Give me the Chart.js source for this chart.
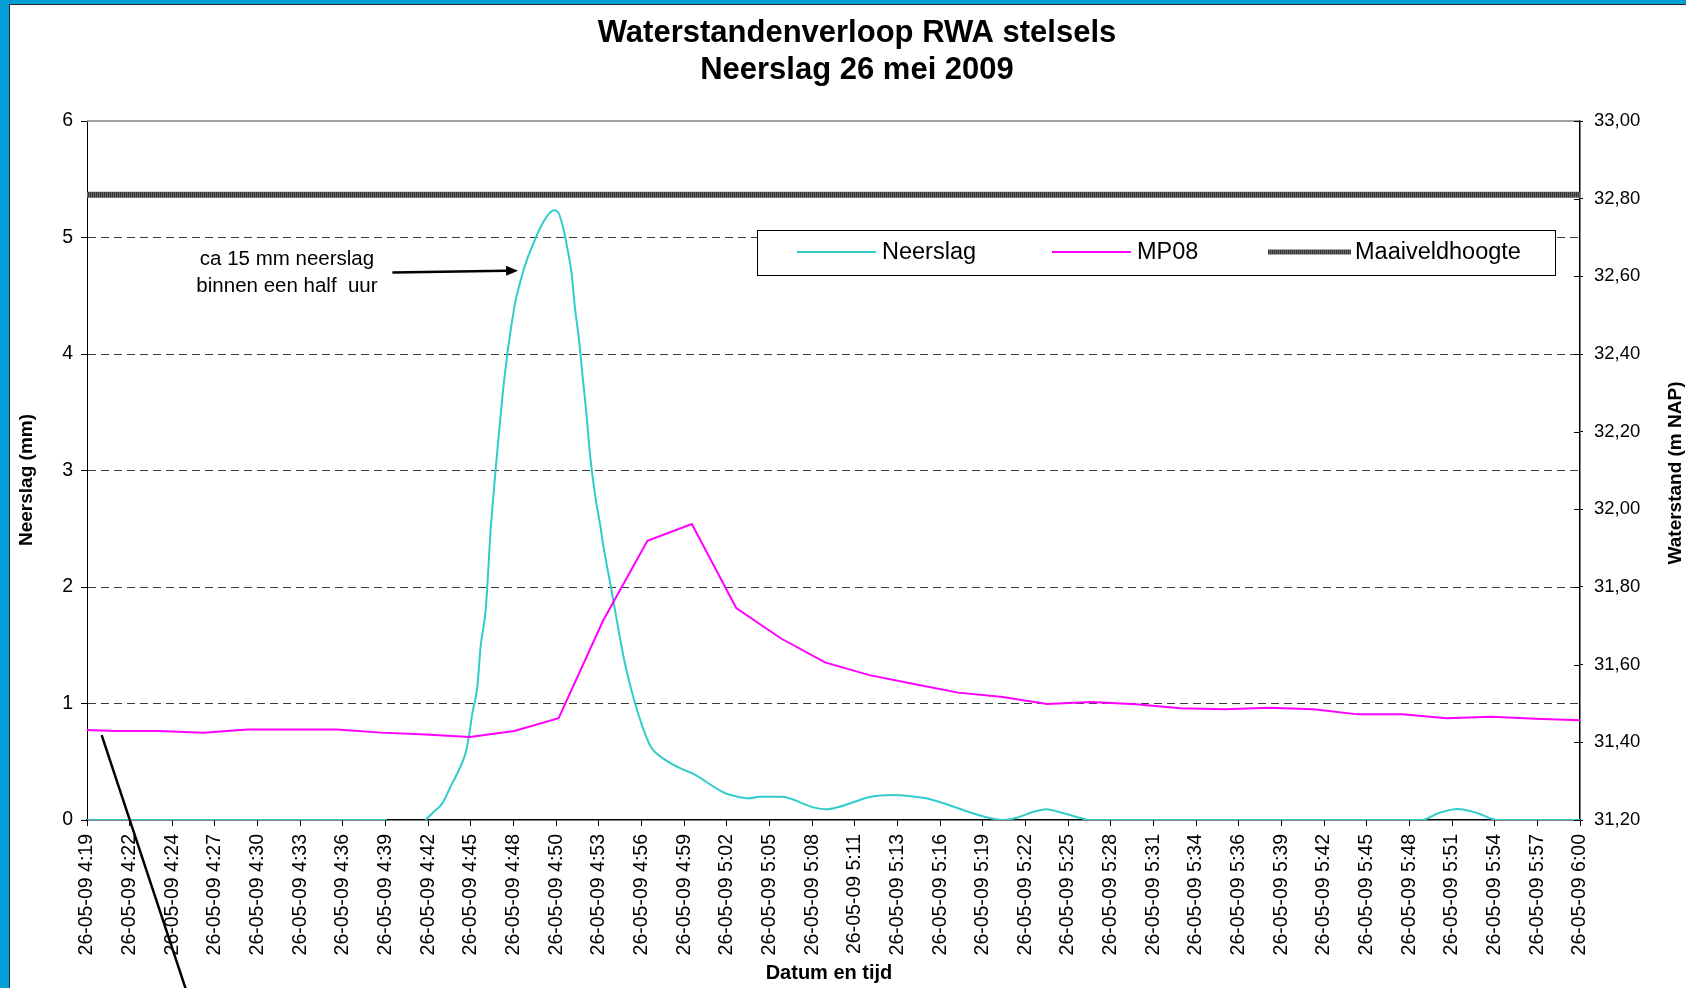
<!DOCTYPE html>
<html>
<head>
<meta charset="utf-8">
<script src="https://cdn.jsdelivr.net/npm/chart.js@4.4.1/dist/chart.umd.min.js"></script>
<style>
  html, body { margin: 0; padding: 0; background: #039dd8; overflow: hidden; width: 1686px; height: 988px; }
  #frame { position: absolute; left: 9px; top: 4px; width: 1700px; height: 1000px; background: #ffffff; border-left: 1px solid #2a2a2a; border-top: 1px solid #2a2a2a; }
  #c { position: absolute; left: 0; top: 0; }
</style>
</head>
<body>
<div id="frame"></div>
<canvas id="c" width="1686" height="988" style="width:1686px;height:988px"></canvas>
<script>
// ---------- DATA ----------
const chartTitle = ['Waterstandenverloop RWA stelsels', 'Neerslag 26 mei 2009'];

// x-axis category labels (evenly spaced)
const xTickLabels = [
  '26-05-09 4:19','26-05-09 4:22','26-05-09 4:24','26-05-09 4:27','26-05-09 4:30','26-05-09 4:33',
  '26-05-09 4:36','26-05-09 4:39','26-05-09 4:42','26-05-09 4:45','26-05-09 4:48','26-05-09 4:50',
  '26-05-09 4:53','26-05-09 4:56','26-05-09 4:59','26-05-09 5:02','26-05-09 5:05','26-05-09 5:08',
  '26-05-09 5:11','26-05-09 5:13','26-05-09 5:16','26-05-09 5:19','26-05-09 5:22','26-05-09 5:25',
  '26-05-09 5:28','26-05-09 5:31','26-05-09 5:34','26-05-09 5:36','26-05-09 5:39','26-05-09 5:42',
  '26-05-09 5:45','26-05-09 5:48','26-05-09 5:51','26-05-09 5:54','26-05-09 5:57','26-05-09 6:00'
];
// time range (minutes after 4:00) covered by first and last label
const xStartMinute = 19.14;
const xEndMinute = 120.0;

// Neerslag (mm), time in minutes after 4:00
const neerslagTime = [19.14, 39.39, 40.7, 42.0, 42.57, 43.14, 43.70, 44.26, 44.71, 44.94, 45.17, 45.51,
  45.73, 46.07, 46.22, 46.41, 46.54, 46.74, 46.97, 47.20, 47.54, 47.76, 48.10, 48.32, 48.77, 49.11,
  49.79, 50.35, 50.69, 50.96, 51.37, 51.60, 51.87, 52.10, 52.38, 52.61, 52.83, 53.17, 53.51, 53.85,
  53.96, 54.53, 55.09, 55.43, 56.10, 56.67, 57.24, 58.13, 59.38, 60.05, 62.19, 63.10, 63.88, 64.56,
  66.03, 68.28, 69.07, 69.75, 72.12, 73.58, 75.05, 75.84, 79.78, 81.03, 81.81, 83.28, 83.96, 84.75,
  86.33, 86.80, 109.30, 110.48, 111.72, 113.05, 114.44, 120.0];
const neerslagValue = [0, 0, null, 0, 0.071, 0.143, 0.286, 0.429, 0.572, 0.715, 0.915, 1.144,
  1.487, 1.80, 2.087, 2.50, 2.70, 3.003, 3.318, 3.632, 4.004, 4.204, 4.462, 4.576, 4.776, 4.891,
  5.09, 5.205, 5.234, 5.219, 5.05, 4.90, 4.70, 4.40, 4.12, 3.82, 3.55, 3.08, 2.75, 2.50,
  2.40, 2.002, 1.602, 1.373, 1.03, 0.80, 0.626, 0.523, 0.435, 0.40, 0.234, 0.20, 0.186, 0.20,
  0.20, 0.106, 0.092, 0.106, 0.20, 0.215, 0.20, 0.186, 0.028, 0, 0.015, 0.077, 0.092, 0.071,
  0.015, 0, 0, 0.06, 0.094, 0.06, 0, 0];

// MP08 waterstand (m NAP), time in minutes after 4:00
const mp08Time = [19.14, 21, 24, 27, 30, 33, 36, 39, 42, 45, 48, 51, 54, 57, 60, 63, 66, 69, 72, 75,
  78, 81, 84, 87, 90, 93, 96, 99, 102, 105, 108, 111, 114, 117, 120];
const mp08Value = [31.432, 31.429, 31.429, 31.425, 31.433, 31.433, 31.433, 31.425, 31.420, 31.414,
  31.429, 31.462, 31.713, 31.919, 31.962, 31.746, 31.668, 31.606, 31.573, 31.550, 31.528, 31.517,
  31.499, 31.504, 31.498, 31.488, 31.485, 31.489, 31.485, 31.472, 31.472, 31.462, 31.466, 31.461, 31.457];

// Maaiveldhoogte (m NAP)
const maaiveldTime = [19.14, 120];
const maaiveldValue = [32.81, 32.81];

const seriesNames = ['Neerslag', 'MP08', 'Maaiveldhoogte'];
const axisTitles = { x: 'Datum en tijd', left: 'Neerslag (mm)', right: 'Waterstand (m NAP)' };

// annotation (data coordinates: minutes after 4:00, Neerslag mm)
const noteLines = ['ca 15 mm neerslag', 'binnen een half  uur'];
const noteAnchor = { t: 32.65, v: [4.81, 4.58] };
const noteArrow = { from: [39.77, 4.70], to: [48.26, 4.715] };
const noteLine2 = { from: [20.13, 0.729], to: [25.94, -1.5] };

// ---------- CHART ----------
const FONT = "'Liberation Sans', Arial, sans-serif";
Chart.defaults.font.family = FONT;
Chart.defaults.color = '#000';

const canvas = document.getElementById('c');
const ctx0 = canvas.getContext('2d');
const pc = document.createElement('canvas');
pc.width = 2; pc.height = 1;
const pg = pc.getContext('2d');
pg.fillStyle = '#363636'; pg.fillRect(0, 0, 1, 1);
pg.fillStyle = '#666666'; pg.fillRect(1, 0, 1, 1);
const groundPattern = ctx0.createPattern(pc, 'repeat');

const COLORS = { neerslag: '#33CCCC', mp08: '#FF00FF' };

const zip = (xs, ys) => xs.map((x, i) => ({ x: x, y: ys[i] }));

const decorPlugin = {
  id: 'decor',
  afterDraw(chart) {
    const { ctx, chartArea: ca, scales } = chart;
    const x = scales.x, yL = scales.yL, yR = scales.yR;
    ctx.save();
    // top frame line of plot area
    ctx.strokeStyle = '#808080'; ctx.lineWidth = 1.5;
    ctx.beginPath(); ctx.moveTo(ca.left, ca.top); ctx.lineTo(ca.right, ca.top); ctx.stroke();
    // inner part of right-axis cross ticks
    ctx.strokeStyle = '#000'; ctx.lineWidth = 1;
    yR.ticks.forEach(t => {
      const y = Math.round(yR.getPixelForValue(t.value)) + 0.5;
      ctx.beginPath(); ctx.moveTo(ca.right - 6, y); ctx.lineTo(ca.right, y); ctx.stroke();
    });

    // chart title
    ctx.fillStyle = '#000';
    ctx.textAlign = 'center'; ctx.textBaseline = 'middle';
    ctx.font = 'bold 31px ' + FONT;
    ctx.fillText(chartTitle[0], 857, 33);
    ctx.fillText(chartTitle[1], 857, 70);

    // axis titles
    ctx.font = 'bold 20px ' + FONT;
    ctx.fillText(axisTitles.x, 829, 973);
    ctx.font = 'bold 19px ' + FONT;
    ctx.save(); ctx.translate(27, 480); ctx.rotate(-Math.PI / 2); ctx.fillText(axisTitles.left, 0, 0); ctx.restore();
    ctx.save(); ctx.translate(1676, 473); ctx.rotate(-Math.PI / 2); ctx.fillText(axisTitles.right, 0, 0); ctx.restore();

    // legend
    const lg = { l: 757.5, t: 230.5, r: 1555.5, b: 275.5 };
    ctx.fillStyle = '#fff';
    ctx.fillRect(lg.l, lg.t, lg.r - lg.l, lg.b - lg.t);
    ctx.strokeStyle = '#000'; ctx.lineWidth = 1;
    ctx.strokeRect(lg.l, lg.t, lg.r - lg.l, lg.b - lg.t);
    const ly = 252;
    const items = [
      { x1: 797, x2: 876, tx: 882, color: COLORS.neerslag, w: 2 },
      { x1: 1052, x2: 1131, tx: 1137, color: COLORS.mp08, w: 2 },
      { x1: 1268, x2: 1351, tx: 1355, color: groundPattern, w: 5 }
    ];
    ctx.font = '23.5px ' + FONT;
    ctx.textAlign = 'left'; ctx.textBaseline = 'middle';
    items.forEach((it, i) => {
      ctx.strokeStyle = it.color; ctx.lineWidth = it.w;
      ctx.beginPath(); ctx.moveTo(it.x1, ly); ctx.lineTo(it.x2, ly); ctx.stroke();
      ctx.fillStyle = '#000';
      ctx.fillText(seriesNames[i], it.tx, ly + 1);
    });

    // annotation text
    ctx.font = '20.5px ' + FONT;
    ctx.textAlign = 'center';
    const nx = x.getPixelForValue(noteAnchor.t);
    noteLines.forEach((s, i) => ctx.fillText(s, nx, yL.getPixelForValue(noteAnchor.v[i])));

    // arrow
    const ax1 = x.getPixelForValue(noteArrow.from[0]), ay1 = yL.getPixelForValue(noteArrow.from[1]);
    const ax2 = x.getPixelForValue(noteArrow.to[0]), ay2 = yL.getPixelForValue(noteArrow.to[1]);
    const ang = Math.atan2(ay2 - ay1, ax2 - ax1);
    const hl = 12, hw = 5;
    ctx.strokeStyle = '#000'; ctx.lineWidth = 2.5;
    ctx.beginPath(); ctx.moveTo(ax1, ay1);
    ctx.lineTo(ax2 - hl * Math.cos(ang), ay2 - hl * Math.sin(ang)); ctx.stroke();
    ctx.fillStyle = '#000';
    ctx.beginPath();
    ctx.moveTo(ax2, ay2);
    ctx.lineTo(ax2 - hl * Math.cos(ang) + hw * Math.sin(ang), ay2 - hl * Math.sin(ang) - hw * Math.cos(ang));
    ctx.lineTo(ax2 - hl * Math.cos(ang) - hw * Math.sin(ang), ay2 - hl * Math.sin(ang) + hw * Math.cos(ang));
    ctx.closePath(); ctx.fill();

    // second annotation line
    ctx.lineWidth = 2.5;
    ctx.beginPath();
    ctx.moveTo(x.getPixelForValue(noteLine2.from[0]), yL.getPixelForValue(noteLine2.from[1]));
    ctx.lineTo(x.getPixelForValue(noteLine2.to[0]), yL.getPixelForValue(noteLine2.to[1]));
    ctx.stroke();
    ctx.restore();
  }
};

new Chart(canvas, {
  type: 'line',
  data: {
    datasets: [
      {
        label: seriesNames[0], yAxisID: 'yL',
        data: zip(neerslagTime, neerslagValue),
        borderColor: COLORS.neerslag, borderWidth: 2, pointRadius: 0,
        cubicInterpolationMode: 'monotone', spanGaps: false, order: 2
      },
      {
        label: seriesNames[1], yAxisID: 'yR',
        data: zip(mp08Time, mp08Value),
        borderColor: COLORS.mp08, borderWidth: 2, pointRadius: 0, tension: 0, order: 1
      },
      {
        label: seriesNames[2], yAxisID: 'yR',
        data: zip(maaiveldTime, maaiveldValue),
        borderColor: groundPattern, borderWidth: 6, pointRadius: 0, tension: 0, order: 0
      }
    ]
  },
  options: {
    responsive: false, animation: false, devicePixelRatio: 1,
    layout: { padding: { top: 121, left: 0, right: 0, bottom: 0 } },
    plugins: { legend: { display: false }, title: { display: false }, tooltip: { enabled: false } },
    scales: {
      x: {
        type: 'linear', position: 'bottom', min: xStartMinute, max: xEndMinute,
        afterBuildTicks: (s) => {
          s.ticks = xTickLabels.map((l, i) => ({ value: xStartMinute + i * (xEndMinute - xStartMinute) / (xTickLabels.length - 1) }));
        },
        afterFit: (s) => { s.height = 168; },
        ticks: {
          autoSkip: false, maxRotation: 90, minRotation: 90, padding: 8,
          font: { size: 19.5 }, color: '#000',
          callback: (v, i) => xTickLabels[i]
        },
        grid: { drawOnChartArea: false, drawTicks: true, tickLength: 6, tickColor: '#000' },
        border: { display: true, color: '#000', width: 1.5 }
      },
      yL: {
        type: 'linear', position: 'left', min: 0, max: 6,
        afterFit: (s) => { s.width = 87; },
        ticks: { stepSize: 1, padding: 8, font: { size: 19.5 }, color: '#000' },
        grid: {
          drawOnChartArea: true, drawTicks: true, tickLength: 6, tickColor: '#000', tickBorderDash: [],
          lineWidth: 1,
          color: (c) => (c.tick && (c.tick.value === 0 || c.tick.value === 6)) ? 'rgba(0,0,0,0)' : '#3c3c3c'
        },
        border: { display: true, color: '#000', width: 1, dash: [8, 5] }
      },
      yR: {
        type: 'linear', position: 'right', min: 31.2, max: 33.0,
        afterFit: (s) => { s.width = 106; },
        ticks: {
          stepSize: 0.2, padding: 11, font: { size: 18.5 }, color: '#000',
          callback: (v) => v.toFixed(2).replace('.', ',')
        },
        grid: { drawOnChartArea: false, drawTicks: true, tickLength: 3, tickColor: '#000' },
        border: { display: true, color: '#000', width: 1.5 }
      }
    }
  },
  plugins: [decorPlugin]
});
</script>
</body>
</html>
